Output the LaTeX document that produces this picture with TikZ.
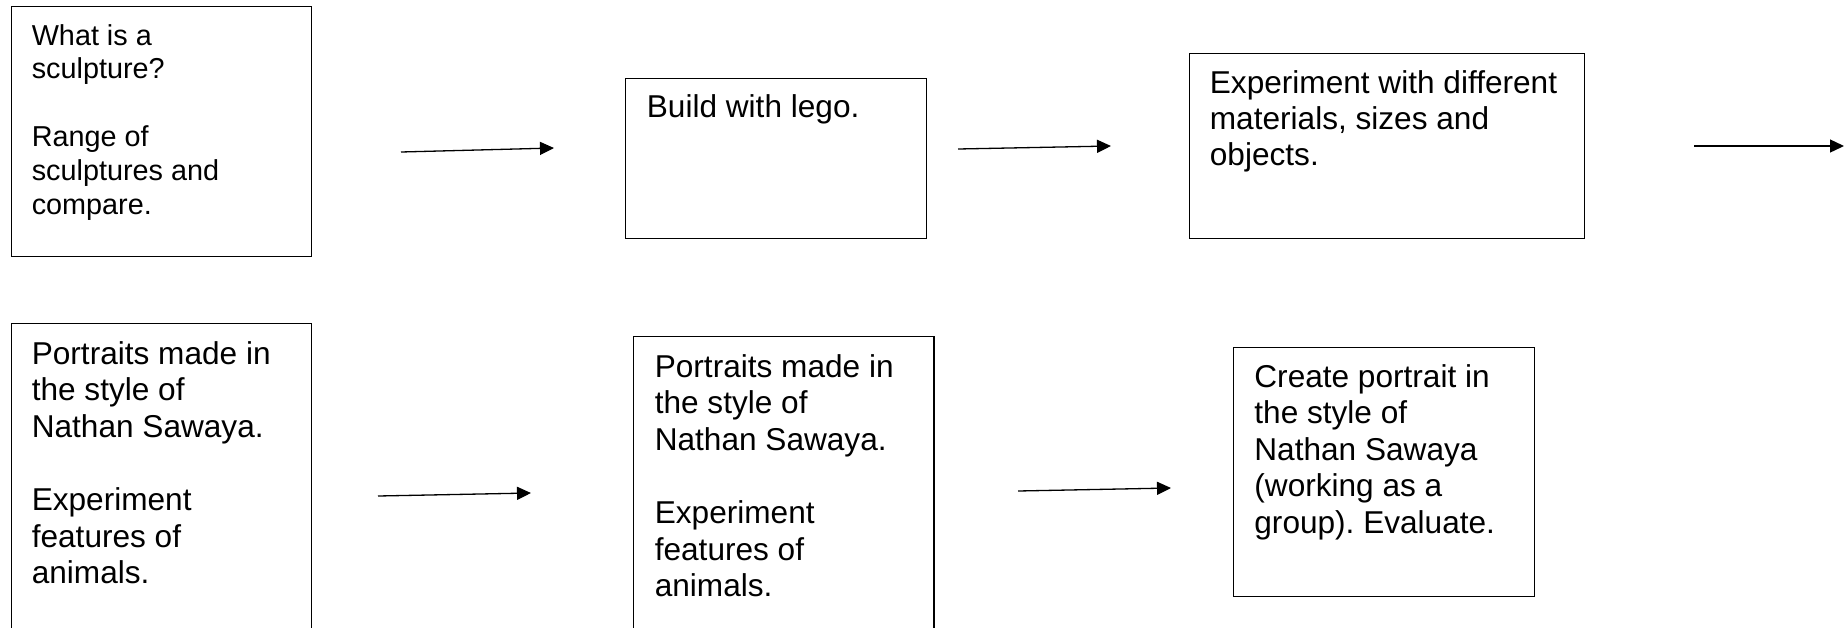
\documentclass[tikz,border=0pt]{standalone}
\usepackage{fontspec}
\setmainfont{Liberation Sans}
\usetikzlibrary{arrows.meta}
\frenchspacing
\tikzset{
  box/.style={draw=black, line width=1.2pt, anchor=north west, inner sep=0pt},
  txt/.style={anchor=base west, inner sep=0pt, font=\fontsize{31.6}{36.6}\selectfont},
  txtsmall/.style={anchor=base west, inner sep=0pt, font=\fontsize{28.8}{33.8}\selectfont},
  flow/.style={line width=1.3pt, -{Triangle[length=14pt,width=13pt]}}
}
\begin{document}
\begin{tikzpicture}[x=1pt,y=-1pt]
\useasboundingbox (0,0) rectangle (1845,627);
\clip (0,0) rectangle (1845,627);
\fill[white] (0,0) rectangle (1845,627);
% boxes
\node[box, minimum width=300.5pt, minimum height=250pt] (b1) at (10.7,6) {};
\node[box, minimum width=301.3pt, minimum height=160pt] (b2) at (624.5,78) {};
\node[box, minimum width=395.2pt, minimum height=185pt] (b3) at (1188.5,53) {};
\node[box, minimum width=300.5pt, minimum height=330pt] (b4) at (10.7,323) {};
\node[box, minimum width=300.5pt, minimum height=320pt] (b5) at (632.8,336) {};
\node[box, minimum width=301pt, minimum height=249pt] (b6) at (1233,347) {};
% texts
\node[txtsmall] (t1) at (31.6,45) {\vtop{\hbox{What is a}\hbox{sculpture?}\hbox{}\hbox{Range of}\hbox{sculptures and}\hbox{compare.}}};
\node[txt] (t2) at (646.7,117) {Build with lego.};
\node[txt] (t3) at (1209.7,93) {\vtop{\baselineskip=36pt\hbox{Experiment with different}\hbox{materials, sizes and}\hbox{objects.}}};
\node[txt] (t4) at (31.6,364) {\vtop{\hbox{Portraits made in}\hbox{the style of}\hbox{Nathan Sawaya.}\hbox{}\hbox{Experiment}\hbox{features of}\hbox{animals.}}};
\node[txt] (t5) at (654.6,377) {\vtop{\hbox{Portraits made in}\hbox{the style of}\hbox{Nathan Sawaya.}\hbox{}\hbox{Experiment}\hbox{features of}\hbox{animals.}}};
\node[txt] (t6) at (1254.2,387) {\vtop{\hbox{Create portrait in}\hbox{the style of}\hbox{Nathan Sawaya}\hbox{(working as a}\hbox{group). Evaluate.}}};
% arrow end points
\coordinate (a1s) at (401,152); \coordinate (a1e) at (554,148);
\coordinate (a2s) at (958,149); \coordinate (a2e) at (1111,146);
\coordinate (a3s) at (1694,146); \coordinate (a3e) at (1844,146);
\coordinate (a4s) at (378,496); \coordinate (a4e) at (531,493);
\coordinate (a5s) at (1018,491); \coordinate (a5e) at (1171,488);
\draw[flow] (a1s) -- (a1e);
\draw[flow] (a2s) -- (a2e);
\draw[flow] (a3s) -- (a3e);
\draw[flow] (a4s) -- (a4e);
\draw[flow] (a5s) -- (a5e);
\end{tikzpicture}
\end{document}
